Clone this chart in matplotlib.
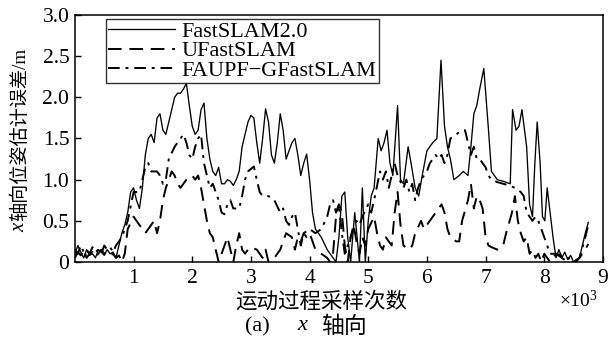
import numpy as np
import matplotlib
matplotlib.use("Agg")
import matplotlib.pyplot as plt

plt.rcParams['font.family'] = ['Liberation Serif', 'Noto Sans CJK SC']
plt.rcParams['mathtext.fontset'] = 'custom'
plt.rcParams['mathtext.rm'] = 'Liberation Serif'
plt.rcParams['mathtext.it'] = 'Liberation Serif:italic'

# x in units of 10^3 samples, y error in m
fast_x = [0.0, 0.05, 0.1, 0.15, 0.2, 0.25, 0.3, 0.35, 0.4, 0.45, 0.5, 0.55, 0.6, 0.65, 0.7, 0.75,
          0.8, 0.85, 0.9, 0.95, 1.0, 1.05, 1.1, 1.15, 1.2, 1.25, 1.3, 1.35, 1.4, 1.45, 1.5, 1.55,
          1.6, 1.65, 1.7, 1.75, 1.8, 1.85, 1.9, 1.95, 2.0, 2.05, 2.1, 2.15, 2.2, 2.25, 2.3, 2.35,
          2.4, 2.45, 2.5, 2.55, 2.6, 2.65, 2.7, 2.75, 2.8, 2.85, 2.9, 2.95, 3.0, 3.05, 3.1, 3.15,
          3.2, 3.25, 3.3, 3.35, 3.4, 3.45, 3.5, 3.55, 3.6, 3.65, 3.7, 3.75, 3.8, 3.85, 3.9, 3.95,
          4.0, 4.05, 4.1, 4.2, 4.3, 4.4, 4.45, 4.5, 4.55, 4.6, 4.65, 4.7, 4.77, 4.85, 4.9, 4.95,
          5.0, 5.05, 5.1, 5.17, 5.22, 5.27, 5.32, 5.37, 5.42, 5.5, 5.55, 5.6, 5.68, 5.73, 5.8,
          5.86, 5.92, 6.0, 6.1, 6.17, 6.24, 6.3, 6.35, 6.4, 6.46, 6.55, 6.62, 6.7, 6.75, 6.8,
          6.85, 6.9, 6.97, 7.05, 7.1, 7.2, 7.3, 7.42, 7.46, 7.52, 7.57, 7.62, 7.7, 7.75, 7.8,
          7.84, 7.88, 7.93, 7.97, 8.01, 8.05, 8.1, 8.15, 8.2, 8.25, 8.3, 8.35, 8.4, 8.45, 8.5,
          8.55, 8.6, 8.65, 8.7, 8.75]
fast_y = [0.1, 0.2, 0.12, 0.05, 0.15, 0.08, 0.1, 0.05, 0.15, 0.12, 0.08, 0.15, 0.1, 0.12, 0.05, 0.2,
          0.35, 0.45, 0.6, 0.85, 0.9, 0.75, 0.65, 0.9, 1.3, 1.5, 1.55, 1.45, 1.75, 1.8, 1.6, 1.55,
          1.7, 1.85, 2.0, 2.05, 2.05, 2.1, 2.17, 1.9, 1.65, 1.55, 1.6, 1.85, 1.93, 1.5, 1.25, 1.1,
          1.05, 1.15, 0.95, 0.95, 1.0, 0.98, 0.93, 1.0, 1.1, 1.4, 1.55, 1.7, 1.78, 1.75, 1.45, 1.2,
          1.5, 1.86, 1.7, 1.3, 1.2, 1.45, 1.8, 1.6, 1.25, 1.35, 1.45, 1.5, 1.3, 1.05, 1.2, 1.31,
          1.0, 0.6, 0.4, 0.3, 0.15, 0.05, 0.0, 0.3, 0.8, 0.85, 0.3, 0.0, 0.6, 0.0, 0.9, 0.0,
          0.5, 0.8, 0.9, 1.5, 1.35, 1.45, 1.6, 1.2, 1.05, 1.9, 1.0, 0.95, 1.4, 1.2, 0.9,
          0.8, 1.05, 1.35, 1.45, 1.5, 2.45, 1.65, 1.4, 1.25, 1.0, 1.05, 1.1, 1.05, 1.4, 1.8,
          1.9, 2.1, 2.35, 1.6, 1.1, 1.0, 0.98, 0.95, 1.85, 1.6, 1.65, 1.85, 1.4, 0.7, 0.55,
          1.2, 1.7, 1.2, 0.55, 0.5, 0.9, 0.6, 0.3, 0.05, 0.15, 0.05, 0.12, 0.03, 0.08, 0.0,
          0.0, 0.05, 0.2, 0.35, 0.48]

ufast_x = [0.0, 0.05, 0.1, 0.15, 0.2, 0.25, 0.3, 0.35, 0.4, 0.45, 0.5, 0.55, 0.6, 0.65, 0.7, 0.75,
           0.8, 0.85, 0.9, 1.0, 1.05, 1.1, 1.15, 1.2, 1.3, 1.35, 1.4, 1.45, 1.5, 1.55, 1.6, 1.65,
           1.7, 1.75, 1.8, 1.85, 1.9, 2.0, 2.05, 2.1, 2.15, 2.2, 2.25, 2.3, 2.35, 2.4, 2.45, 2.5,
           2.55, 2.6, 2.65, 2.7, 2.75, 2.8, 2.85, 2.9, 2.95, 3.0, 3.1, 3.15, 3.2, 3.25, 3.3, 3.4,
           3.5, 3.55, 3.6, 3.7, 3.75, 3.8, 3.85, 3.9, 3.95, 4.0, 4.05, 4.1, 4.2, 4.3, 4.35, 4.4,
           4.45, 4.5, 4.55, 4.6, 4.65, 4.7, 4.75, 4.8, 4.85, 4.9, 4.95, 5.0, 5.1, 5.15, 5.2, 5.25,
           5.3, 5.4, 5.45, 5.5, 5.55, 5.6, 5.7, 5.75, 5.8, 5.9, 5.95, 6.0, 6.1, 6.2, 6.25, 6.3,
           6.35, 6.4, 6.5, 6.55, 6.6, 6.7, 6.75, 6.8, 6.85, 6.9, 6.95, 7.0, 7.05, 7.1, 7.2, 7.3,
           7.35, 7.45, 7.5, 7.55, 7.6, 7.65, 7.7, 7.75, 7.8, 7.85, 7.9, 7.95, 8.0, 8.05, 8.1, 8.2,
           8.3, 8.4, 8.5, 8.6, 8.7, 8.75]
ufast_y = [0.05, 0.12, 0.08, 0.15, 0.05, 0.1, 0.12, 0.06, 0.1, 0.15, 0.1, 0.12, 0.08, 0.1, 0.05, 0.08,
           0.0, 0.1, 0.4, 0.55, 0.5, 0.45, 0.4, 0.35, 0.45, 0.5, 0.35, 0.5, 0.75, 0.9, 1.0, 1.1,
           1.05, 0.95, 0.9, 0.95, 1.0, 1.05, 1.0, 1.05, 0.9, 0.7, 0.5, 0.35, 0.3, 0.15, 0.0, 0.1,
           0.2, 0.3, 0.15, 0.0, 0.2, 0.35, 0.15, 0.1, 0.15, 0.18, 0.15, 0.1, 0.05, 0.15, 0.0, 0.05,
           0.15, 0.25, 0.35, 0.3, 0.15, 0.3, 0.25, 0.35, 0.3, 0.35, 0.25, 0.15, 0.1, 0.05, 0.0, 0.1,
           0.55, 0.7, 0.6, 0.2, 0.0, 0.3, 0.45, 0.25, 0.1, 0.3, 0.2, 0.4, 0.55, 0.35, 0.2, 0.15,
           0.3, 0.2, 0.6, 0.85, 0.45, 0.2, 0.15, 0.2, 0.35, 0.5, 0.4, 0.45, 0.55, 0.65, 0.7, 0.6,
           0.4, 0.3, 0.25, 0.25, 0.5, 0.75, 0.95, 0.65, 0.8, 0.75, 0.65, 0.3, 0.2, 0.18, 0.15, 0.2,
           0.35, 0.6, 0.8, 0.5, 0.35, 0.25, 0.3, 0.1, 0.15, 0.05, 0.1, 0.0, 0.1, 0.05, 0.0, 0.1,
           0.05, 0.0, 0.0, 0.05, 0.15, 0.22]

faupf_x = [0.0, 0.05, 0.1, 0.15, 0.2, 0.25, 0.3, 0.35, 0.4, 0.45, 0.5, 0.55, 0.6, 0.65, 0.7, 0.75,
           0.8, 0.9, 1.0, 1.1, 1.2, 1.25, 1.3, 1.4, 1.45, 1.5, 1.55, 1.6, 1.7, 1.8, 1.85, 1.9,
           1.95, 2.0, 2.05, 2.1, 2.15, 2.2, 2.25, 2.3, 2.35, 2.4, 2.45, 2.5, 2.55, 2.6, 2.65, 2.7,
           2.8, 2.85, 2.9, 2.95, 3.05, 3.1, 3.15, 3.2, 3.3, 3.4, 3.5, 3.55, 3.6, 3.65, 3.7, 3.75,
           3.8, 3.85, 3.9, 4.0, 4.1, 4.2, 4.3, 4.35, 4.4, 4.45, 4.5, 4.55, 4.6, 4.7, 4.8, 4.85,
           4.9, 5.0, 5.05, 5.1, 5.2, 5.25, 5.3, 5.35, 5.4, 5.45, 5.5, 5.6, 5.65, 5.7, 5.75, 5.8,
           5.85, 5.9, 6.0, 6.05, 6.1, 6.15, 6.2, 6.25, 6.3, 6.35, 6.4, 6.5, 6.6, 6.65, 6.7, 6.75,
           6.8, 6.85, 6.9, 6.95, 7.0, 7.05, 7.1, 7.2, 7.3, 7.4, 7.5, 7.6, 7.65, 7.7, 7.75, 7.8,
           7.85, 7.9, 7.95, 8.0, 8.05, 8.1, 8.2, 8.3, 8.4, 8.5, 8.6, 8.7, 8.75]
faupf_y = [0.15, 0.1, 0.2, 0.12, 0.15, 0.1, 0.18, 0.12, 0.15, 0.1, 0.2, 0.15, 0.18, 0.12, 0.2, 0.25,
           0.3, 0.5, 0.85, 0.85, 1.15, 1.2, 1.1, 1.1, 1.05, 0.95, 1.0, 1.25, 1.4, 1.5, 1.55, 1.45,
           1.3, 1.25, 1.4, 1.5, 1.55, 1.2, 1.05, 0.9, 0.95, 0.85, 0.75, 0.6, 0.58, 0.7, 0.75, 0.65,
           0.65, 0.8, 1.0, 1.1, 1.16, 1.0, 0.85, 0.8, 0.8, 0.75, 0.6, 0.65, 0.5, 0.45, 0.55, 0.6,
           0.4, 0.2, 0.35, 0.4, 0.35, 0.4, 0.55, 0.7, 0.75, 0.6, 0.7, 0.35, 0.1, 0.3, 0.5, 0.45,
           0.55, 0.7, 0.6, 0.75, 1.1, 1.0, 1.1, 0.9, 1.05, 1.2, 1.05, 0.9, 1.0, 0.85, 0.95, 0.75,
           0.9, 1.0, 1.1, 1.2, 1.25, 1.3, 1.25, 1.3, 1.2, 1.3, 1.5, 1.55, 1.6, 1.6, 1.45, 1.3,
           1.4, 1.25, 1.25, 1.2, 1.15, 1.05, 1.0, 0.97, 0.95, 0.93, 0.9, 0.85, 0.8, 0.6, 0.55, 0.5,
           0.55, 0.5, 0.4, 0.3, 0.2, 0.1, 0.1, 0.08, 0.05, 0.0, 0.05, 0.3, 0.45]

fig = plt.figure(figsize=(6.09, 3.45), dpi=100)
ax = fig.add_axes([0.123, 0.2406, 0.867, 0.716])

ax.plot(fast_x, fast_y, color='black', lw=0.95, ls='-', label='FastSLAM2.0')
ax.plot(ufast_x, ufast_y, color='black', lw=1.4, ls=(0, (7, 4)), label='UFastSLAM')
ax.plot(faupf_x, faupf_y, color='black', lw=1.4, ls=(0, (6, 3, 1.5, 3)), label='FAUPF\u2212GFastSLAM')

ax.set_xlim(0, 9)
ax.set_ylim(0, 3)
ax.set_xticks([1, 2, 3, 4, 5, 6, 7, 8, 9])
ax.set_yticks([0, 0.5, 1.0, 1.5, 2.0, 2.5, 3.0])
ax.set_yticklabels(['0', '0.5', '1.0', '1.5', '2.0', '2.5', '3.0'])
ax.tick_params(direction='in', length=4, width=1, labelsize=15.5)
ax.tick_params(axis='x', pad=5)
ax.tick_params(axis='y', pad=4)
for s in ax.spines.values():
    s.set_linewidth(1.1)

# y label: italic x + Chinese text, drawn as two rotated pieces
fig.text(0.032, 0.327, 'x', rotation=90, ha='center', va='bottom', fontsize=15,
         family='Liberation Serif', style='italic')
fig.text(0.032, 0.358, '轴向位姿估计误差/m', rotation=90, ha='center', va='bottom', fontsize=13.8)

leg = ax.legend(loc='upper left', bbox_to_anchor=(0.058, 0.985), fontsize=16,
                frameon=True, fancybox=False, edgecolor='black', handlelength=3.0,
                handletextpad=0.3, borderpad=0.12, labelspacing=-0.05, borderaxespad=0)
leg.get_frame().set_linewidth(1.0)

fig.text(0.527, 0.125, '运动过程采样次数', ha='center', va='center', fontsize=15.5)
fig.text(0.95, 0.13, r'$\times10^3$', ha='center', va='center', fontsize=14)

# caption "(a)  x 轴向"
fig.text(0.423, 0.052, '(a)', ha='center', va='center', fontsize=16)
fig.text(0.497, 0.057, 'x', ha='center', va='center', fontsize=16,
         family='Liberation Serif', style='italic')
fig.text(0.565, 0.052, '轴向', ha='center', va='center', fontsize=16.5)

fig.savefig('out.png', dpi=100)
